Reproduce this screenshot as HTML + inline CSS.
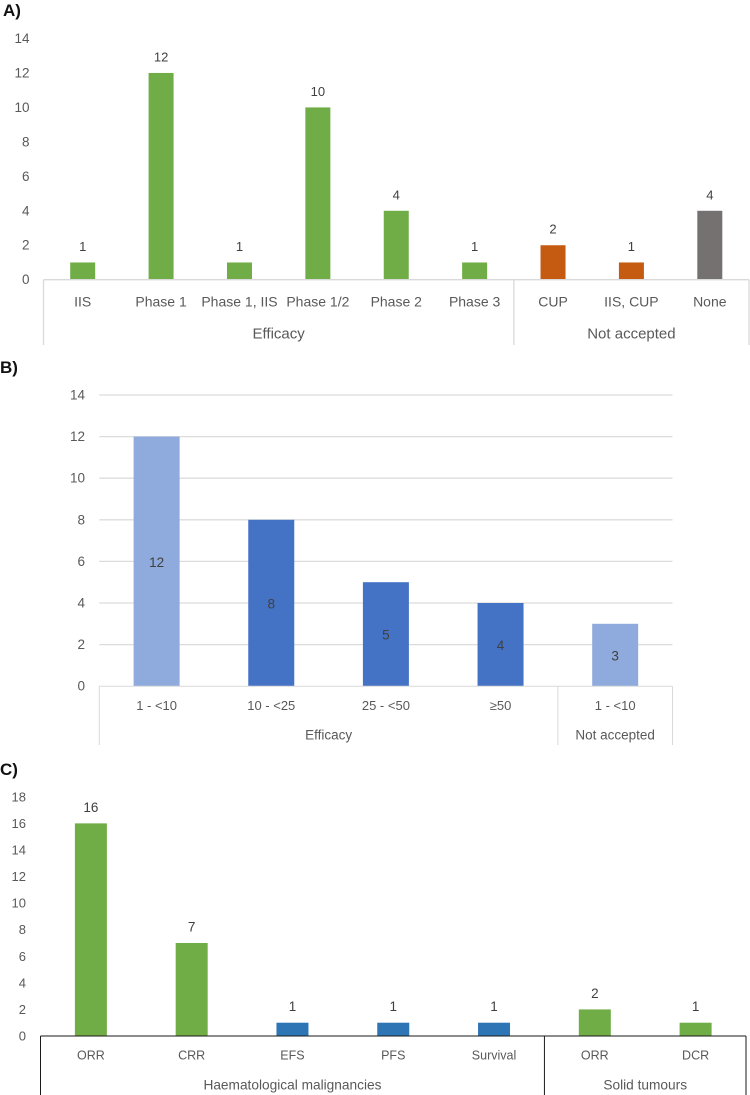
<!DOCTYPE html>
<html lang="en">
<head>
<meta charset="utf-8">
<title>Bar charts A, B and C</title>
<style>
html,body{margin:0;padding:0;background:#fff;width:750px;height:1095px;overflow:hidden}
svg{display:block;font-family:"Liberation Sans",sans-serif}
.panel-title{font-size:17px;font-weight:bold;fill:#111}
.tick{fill:#595959;text-anchor:end;dominant-baseline:central}
.cat,.group{fill:#595959;text-anchor:middle;dominant-baseline:central}
.val{fill:#404040;text-anchor:middle;dominant-baseline:central}
.k-efficacy{fill:#70ad47}
.k-rejected{fill:#c55a11}
.k-none{fill:#767171}
.k-light{fill:#8faadc}
.k-dark{fill:#4472c4}
.k-blue{fill:#2e75b6}
</style>
</head>
<body>
<svg id="root" xmlns="http://www.w3.org/2000/svg" width="750" height="1095" viewBox="0 0 750 1095">
  <text class="panel-title" x="3" y="16">A)</text>
  <text class="panel-title" x="0" y="373">B)</text>
  <text class="panel-title" x="0" y="775">C)</text>
</svg>
<script>
// Chart A data
const aCategories = ["IIS", "Phase 1", "Phase 1, IIS", "Phase 1/2", "Phase 2", "Phase 3", "CUP", "IIS, CUP", "None"];
const aValues = [1, 12, 1, 10, 4, 1, 2, 1, 4];
const aKinds = ["efficacy", "efficacy", "efficacy", "efficacy", "efficacy", "efficacy", "rejected", "rejected", "none"];
const aTicks = [0, 2, 4, 6, 8, 10, 12, 14];
const aGroupNames = ["Efficacy", "Not accepted"];
const aGroupCounts = [6, 3];

// Chart B data
const bCategories = ["1 - <10", "10 - <25", "25 - <50", "≥50", "1 - <10"];
const bValues = [12, 8, 5, 4, 3];
const bKinds = ["light", "dark", "dark", "dark", "light"];
const bTicks = [0, 2, 4, 6, 8, 10, 12, 14];
const bGroupNames = ["Efficacy", "Not accepted"];
const bGroupCounts = [4, 1];

// Chart C data
const cCategories = ["ORR", "CRR", "EFS", "PFS", "Survival", "ORR", "DCR"];
const cValues = [16, 7, 1, 1, 1, 2, 1];
const cKinds = ["efficacy", "efficacy", "blue", "blue", "blue", "efficacy", "efficacy"];
const cTicks = [0, 2, 4, 6, 8, 10, 12, 14, 16, 18];
const cGroupNames = ["Haematological malignancies", "Solid tumours"];
const cGroupCounts = [5, 2];

const NS = "http://www.w3.org/2000/svg";
const root = document.getElementById("root");

function make(tag, parent) {
  const el = document.createElementNS(NS, tag);
  parent.appendChild(el);
  return el;
}

function drawLine(parent, x1, y1, x2, y2, color, width) {
  const l = make("line", parent);
  l.setAttribute("x1", x1);
  l.setAttribute("y1", y1);
  l.setAttribute("x2", x2);
  l.setAttribute("y2", y2);
  l.setAttribute("stroke", color);
  l.setAttribute("stroke-width", width);
  return l;
}

function drawText(parent, cls, x, y, size, str) {
  const t = make("text", parent);
  t.setAttribute("class", cls);
  t.setAttribute("x", x);
  t.setAttribute("y", y);
  t.setAttribute("font-size", size);
  t.textContent = str;
  return t;
}

function drawChart(c) {
  const g = make("g", root);
  
  

  const yScale = v => c.y0 - (v / c.yMax) * (c.y0 - c.yTop);
  const bandW = (c.xRight - c.xLeft) / c.categories.length;
  const xCenter = i => c.xLeft + bandW * (i + 0.5);
  const xEdge = i => c.xLeft + bandW * i;

  // gridlines
  if (c.grid) {
    c.ticks.forEach(t => {
      if (t === 0) return;
      const gl = drawLine(g, c.xLeft, yScale(t), c.xRight, yScale(t), "#dcdcdc", 1.3);
      
      
    });
  }

  // y tick labels
  c.ticks.forEach(t => {
    const lab = drawText(g, "tick", c.tickX, yScale(t), c.tickSize, String(t));
    
    
  });

  // bars and value labels
  c.values.forEach((v, i) => {
    const r = make("rect", g);
    r.setAttribute("x", xCenter(i) - c.barW / 2);
    r.setAttribute("y", yScale(v));
    r.setAttribute("width", c.barW);
    r.setAttribute("height", c.y0 - yScale(v));
    r.setAttribute("class", "k-" + c.kinds[i]);
    
    

    const vy = c.valueInside ? (yScale(v) + c.y0) / 2 + 1 : yScale(v) - 16;
    const vt = drawText(g, "val", xCenter(i), vy, c.valSize, String(v));
    
    
  });

  // x axis line
  const ax = drawLine(g, c.xLeft, c.y0, c.xRight, c.y0, c.axisColor, c.axisWidth);
  
  

  // category labels
  c.categories.forEach((name, i) => {
    const t = drawText(g, "cat", xCenter(i), c.catY, c.catSize, name);
    
    
  });

  // group labels and separators
  let start = 0;
  const first = drawLine(g, xEdge(0), c.y0, xEdge(0), c.sepBottom, c.axisColor, c.axisWidth);
  
  
  c.groupNames.forEach((name, gi) => {
    const end = start + c.groupCounts[gi];
    const sep = drawLine(g, xEdge(end), c.y0, xEdge(end), c.sepBottom, c.axisColor, c.axisWidth);
    
    
    const t = drawText(g, "group", (xEdge(start) + xEdge(end)) / 2, c.groupY, c.groupSize, name);
    
    
    start = end;
  });
}

drawChart({
  name: "chart-a",
  categories: aCategories, values: aValues, kinds: aKinds, ticks: aTicks,
  groupNames: aGroupNames, groupCounts: aGroupCounts,
  y0: 279.7, yTop: 38.5, yMax: 14, xLeft: 43.5, xRight: 749,
  barW: 25, tickX: 29.5, tickSize: 13.5, valSize: 13, catSize: 14, groupSize: 15,
  catY: 301.5, groupY: 334, sepBottom: 345, axisColor: "#d9d9d9", axisWidth: 1.3,
  grid: false, valueInside: false
});

drawChart({
  name: "chart-b",
  categories: bCategories, values: bValues, kinds: bKinds, ticks: bTicks,
  groupNames: bGroupNames, groupCounts: bGroupCounts,
  y0: 686.2, yTop: 395, yMax: 14, xLeft: 99.3, xRight: 672.5,
  barW: 46, tickX: 85, tickSize: 13.5, valSize: 13.5, catSize: 13, groupSize: 13.5,
  catY: 705.7, groupY: 735, sepBottom: 745, axisColor: "#d9d9d9", axisWidth: 1,
  grid: true, valueInside: true
});

drawChart({
  name: "chart-c",
  categories: cCategories, values: cValues, kinds: cKinds, ticks: cTicks,
  groupNames: cGroupNames, groupCounts: cGroupCounts,
  y0: 1036, yTop: 796.8, yMax: 18, xLeft: 40.5, xRight: 746,
  barW: 32, tickX: 26, tickSize: 13, valSize: 13.5, catSize: 12.5, groupSize: 13.7,
  catY: 1055.7, groupY: 1085, sepBottom: 1095, axisColor: "#1a1a1a", axisWidth: 1,
  grid: false, valueInside: false
});
</script>
</body>
</html>
